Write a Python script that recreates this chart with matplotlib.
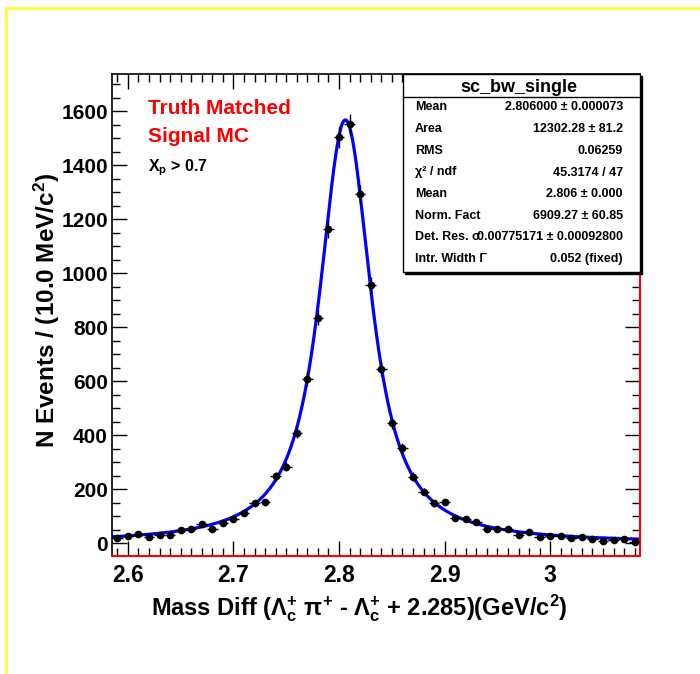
import numpy as np
import matplotlib
matplotlib.use("Agg")
import matplotlib.pyplot as plt
from matplotlib.patches import Rectangle
from matplotlib.lines import Line2D
from matplotlib.ticker import MultipleLocator

# ---------------- data ----------------
bin_lo, bin_hi, n_bins = 2.585, 3.085, 50
counts = [20, 25, 33, 23, 29, 30, 48, 52, 69, 53,
          73, 89, 110, 148, 151, 247, 283, 409, 608, 835,
          1163, 1504, 1552, 1292, 956, 645, 444, 351, 246, 190,
          147, 152, 93, 89, 78, 51, 53, 53, 28, 40,
          22, 25, 26, 20, 22, 14, 9, 10, 14, 3]

# fit parameters (from stats box)
fit_mean = 2.806
fit_sigma = 0.00775171
fit_gamma = 0.052
fit_yield = 13800.0  # events in curve normalisation (read from peak height)

stat_labels = ["Mean", "Area", "RMS", "\u03c7\u00b2 / ndf", "Mean",
               "Norm. Fact", "Det. Res. \u03c3", "Intr. Width \u0393"]
stat_values = ["2.806000 \u00b1 0.000073", "12302.28 \u00b1 81.2", "0.06259",
               "45.3174 / 47", "2.806 \u00b1 0.000", "6909.27 \u00b1 60.85",
               "0.00775171 \u00b1 0.00092800", "0.052 (fixed)"]
stat_title = "sc_bw_single"

# ---------------- style ----------------
plt.rcParams['font.family'] = ['Liberation Sans', 'DejaVu Sans']
plt.rcParams['font.weight'] = 'bold'
plt.rcParams['mathtext.fontset'] = 'custom'
plt.rcParams['mathtext.rm'] = 'Liberation Sans:bold'
plt.rcParams['mathtext.it'] = 'Liberation Sans:bold'
plt.rcParams['mathtext.bf'] = 'Liberation Sans:bold'
plt.rcParams['mathtext.sf'] = 'Liberation Sans:bold'

W, H = 700, 674
fig = plt.figure(figsize=(W / 100, H / 100), dpi=100)
fig.patch.set_facecolor('white')


def fx(px):
    return px / W


def fy(py):
    return 1 - py / H


ax_l, ax_r, ax_t, ax_b = 112, 640, 74, 556
ax = fig.add_axes([fx(ax_l), fy(ax_b), fx(ax_r) - fx(ax_l), fy(ax_t) - fy(ax_b)])

edges = np.linspace(bin_lo, bin_hi, n_bins + 1)
centers = 0.5 * (edges[:-1] + edges[1:])
bw = edges[1] - edges[0]
y = np.array(counts, dtype=float)

# fit curve: Breit-Wigner convolved with Gaussian resolution
xs = np.linspace(bin_lo, bin_hi, 700)
g = fit_gamma / 2
t = np.linspace(-6 * fit_sigma, 6 * fit_sigma, 401)
G = np.exp(-t ** 2 / (2 * fit_sigma ** 2))
G /= G.sum()
L = (g / np.pi) / ((xs[:, None] - t[None, :] - fit_mean) ** 2 + g ** 2)
V = (L * G[None, :]).sum(axis=1)
curve = fit_yield * bw * V

ax.plot(xs, curve, color='#0000ff', lw=2.3, zorder=2)
ax.errorbar(centers, y, yerr=np.sqrt(y), xerr=bw / 2, fmt='o', color='black',
            ms=4.5, elinewidth=1.0, capsize=0, zorder=3)

ax.set_xlim(bin_lo, bin_hi)
ax.set_ylim(-48, 1738)
ax.xaxis.set_major_locator(MultipleLocator(0.1))
ax.xaxis.set_minor_locator(MultipleLocator(0.01))
ax.yaxis.set_major_locator(MultipleLocator(200))
ax.yaxis.set_minor_locator(MultipleLocator(50))
ax.set_xticks([2.6, 2.7, 2.8, 2.9, 3.0])
ax.set_xticklabels(["2.6", "2.7", "2.8", "2.9", "3"])
ax.tick_params(which='both', direction='in', top=True, right=True, color='black', width=1)
ax.tick_params(which='major', length=11)
ax.tick_params(which='minor', length=5.5)
ax.tick_params(axis='x', which='major', pad=6, labelsize=16.5)
ax.tick_params(axis='y', which='major', pad=3, labelsize=15)
for lab in ax.get_xticklabels() + ax.get_yticklabels():
    lab.set_fontweight('bold')

for s in ['left', 'top']:
    ax.spines[s].set_color('black')
    ax.spines[s].set_linewidth(1.2)
for s in ['bottom', 'right']:
    ax.spines[s].set_color('#ff0000')
    ax.spines[s].set_linewidth(1.5)

# axis titles
fig.text(fx(359), fy(615),
         r"Mass Diff ($\Lambda_{c}^{+}$ $\pi^{+}$ - $\Lambda_{c}^{+}$ + 2.285)(GeV/c$^{2}$)",
         ha='center', va='baseline', fontsize=17, fontweight='bold')
fig.text(fx(47), fy(310), r"N Events / (10.0 MeV/c$^{2}$)", rotation=90,
         ha='center', va='center', fontsize=17.5, fontweight='bold')

# labels in the plot
fig.text(fx(148), fy(114), "Truth Matched", color='#ff0000', fontsize=15,
         fontweight='bold', ha='left', va='baseline')
fig.text(fx(148), fy(141.5), "Signal MC", color='#ff0000', fontsize=15,
         fontweight='bold', ha='left', va='baseline')
fig.text(fx(148), fy(171), r"X$_{p}$ > 0.7", color='black', fontsize=11.5,
         fontweight='bold', ha='left', va='baseline')

# stats box
bx_l, bx_r, bx_t, bx_b = 403, 640, 74, 272
fig.add_artist(Rectangle((fx(bx_l + 2), fy(bx_b + 2)), fx(bx_r) - fx(bx_l), fy(bx_t) - fy(bx_b),
                         transform=fig.transFigure, facecolor='black', edgecolor='black', zorder=5))
fig.add_artist(Rectangle((fx(bx_l), fy(bx_b)), fx(bx_r) - fx(bx_l), fy(bx_t) - fy(bx_b),
                         transform=fig.transFigure, facecolor='white', edgecolor='black',
                         lw=1.0, zorder=6))
fig.add_artist(Line2D([fx(bx_l), fx(bx_r)], [fy(96.5), fy(96.5)], transform=fig.transFigure,
                      color='black', lw=1.0, zorder=7))
fig.text(fx(519), fy(91.5), stat_title, ha='center', va='baseline', fontsize=13,
         fontweight='bold', zorder=8)
row_y = [106.7, 128.7, 151, 172.5, 194, 215.7, 237.3, 259]
for yy, lab, val in zip(row_y, stat_labels, stat_values):
    fig.text(fx(415), fy(yy), lab, ha='left', va='center', fontsize=9, fontweight='bold', zorder=8)
    fig.text(fx(623), fy(yy), val, ha='right', va='center', fontsize=9, fontweight='bold', zorder=8)

# yellow canvas frame
fig.add_artist(Line2D([fx(6), fx(6)], [fy(8), fy(H + 5)], transform=fig.transFigure,
                      color='#ffff33', lw=2.0))
fig.add_artist(Line2D([fx(6), fx(W + 5)], [fy(8), fy(8)], transform=fig.transFigure,
                      color='#ffff33', lw=2.0))

fig.savefig("out.png", dpi=100, facecolor='white')
